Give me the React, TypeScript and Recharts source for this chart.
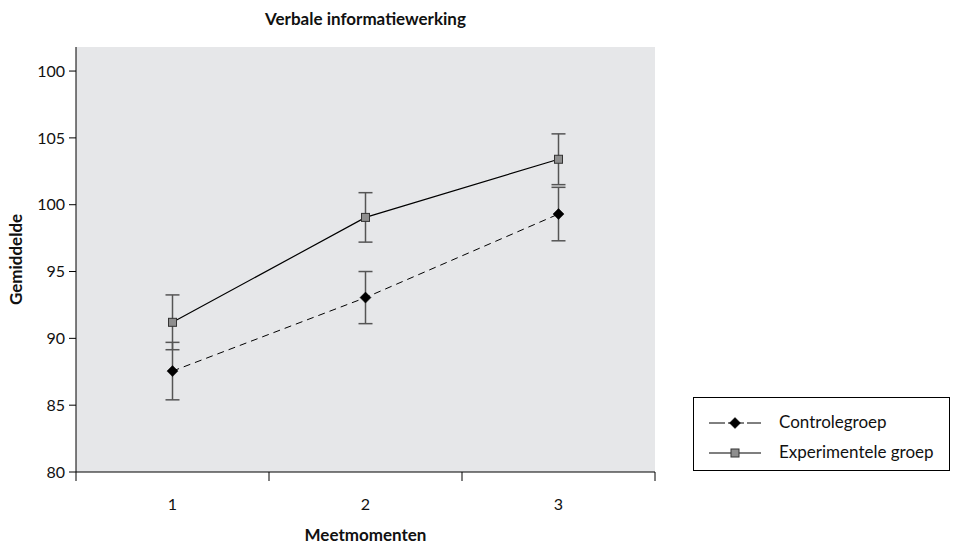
import React from 'react';
import { LineChart, Line, XAxis, YAxis, CartesianGrid, ErrorBar } from 'recharts';

const categories = [1, 2, 3];
const controlValues = [87.55, 93.05, 99.3];
const controlErrors = [2.15, 1.95, 2.0];
const experimentalValues = [91.2, 99.05, 103.4];
const experimentalErrors = [2.05, 1.85, 1.9];
const yTicks = [80, 85, 90, 95, 100, 105, 110];
const yTickLabels = ['80', '85', '90', '95', '100', '105', '100'];
const xBoundaries = [0.5, 1.5, 2.5, 3.5];
const seriesNames = ['Controlegroep', 'Experimentele groep'];

const data = categories.map((c, i) => ({
  x: c,
  ctrl: controlValues[i],
  ctrlErr: controlErrors[i],
  exp: experimentalValues[i],
  expErr: experimentalErrors[i],
}));

const FONT = 'Lato, "Open Sans", sans-serif';

const Diamond = (props: any) => {
  const { cx, cy } = props;
  if (cx == null || cy == null) return null;
  const r = 5.5;
  return <path d={`M${cx},${cy - r}L${cx + r},${cy}L${cx},${cy + r}L${cx - r},${cy}Z`} fill="#000" stroke="#000" strokeWidth={0.5} />;
};

const Square = (props: any) => {
  const { cx, cy } = props;
  if (cx == null || cy == null) return null;
  const s = 8;
  return <rect x={cx - s / 2} y={cy - s / 2} width={s} height={s} fill="#8e8e8e" stroke="#333" strokeWidth={1} />;
};

const XTick = (props: any) => {
  const { x, y, payload } = props;
  const v = payload.value;
  if (Number.isInteger(v)) {
    return (
      <text x={x} y={y + 38} textAnchor="middle" fontFamily={FONT} fontSize={16} fill="#111">
        {v}
      </text>
    );
  }
  return <line x1={x} x2={x} y1={y} y2={y + 9} stroke="#000" strokeWidth={1} />;
};

const LegendBox = () => (
  <div
    style={{
      position: 'absolute',
      left: 693,
      top: 397,
      width: 257,
      height: 74,
      border: '1px solid #000',
      boxSizing: 'border-box',
      background: '#fff',
      fontFamily: FONT,
      fontSize: 17,
      color: '#111',
    }}
  >
    <svg width={80} height={70} style={{ position: 'absolute', left: 0, top: 0 }}>
      <line x1={15} x2={67} y1={25} y2={25} stroke="#000" strokeWidth={1} strokeDasharray="16 3" />
      <Diamond cx={41} cy={25} />
      <line x1={15} x2={67} y1={55} y2={55} stroke="#000" strokeWidth={1.2} />
      <Square cx={41} cy={55} />
    </svg>
    <div style={{ position: 'absolute', left: 85, top: 14, lineHeight: '20px' }}>{seriesNames[0]}</div>
    <div style={{ position: 'absolute', left: 85, top: 44, lineHeight: '20px' }}>{seriesNames[1]}</div>
  </div>
);

export default function App() {
  return (
    <div style={{ position: 'absolute', left: 0, top: 0, width: 953, height: 547, background: '#fff' }}>
      <div
        style={{
          position: 'absolute',
          left: 76,
          width: 579,
          top: 8,
          textAlign: 'center',
          fontFamily: FONT,
          fontWeight: 700,
          fontSize: 17,
          color: '#111',
        }}
      >
        Verbale informatiewerking
      </div>
      <LineChart width={953} height={547} data={data} margin={{ top: 47, right: 298, bottom: 0, left: 0 }}>
        <CartesianGrid fill="#e6e7e9" horizontal={false} vertical={false} />
        <XAxis
          dataKey="x"
          type="number"
          domain={[0.5, 3.5]}
          ticks={[...xBoundaries, ...categories].sort((a, b) => a - b)}
          interval={0}
          tickLine={false}
          tickSize={0}
          tickMargin={0}
          tick={<XTick />}
          axisLine={{ stroke: '#000', strokeWidth: 1 }}
          height={75}
          label={{
            content: (p: any) => {
              const vb = p.viewBox;
              return (
                <text x={vb.x + vb.width / 2} y={vb.y + 69} textAnchor="middle" fontFamily={FONT} fontWeight={700} fontSize={17} fill="#111">
                  Meetmomenten
                </text>
              );
            },
          }}
        />
        <YAxis
          type="number"
          domain={[80, 111.8]}
          ticks={yTicks}
          interval={0}
          allowDataOverflow
          width={76}
          tickSize={7}
          tickLine={{ stroke: '#000' }}
          axisLine={{ stroke: '#000', strokeWidth: 1 }}
          tickFormatter={(v: number) => yTickLabels[yTicks.indexOf(v)]}
          tick={{ fontFamily: FONT, fontSize: 16, fill: '#111' }}
          tickMargin={4}
          label={{
            content: (p: any) => {
              const vb = p.viewBox;
              const cx = 22;
              const cy = vb.y + vb.height / 2;
              return (
                <text x={cx} y={cy} transform={`rotate(-90 ${cx} ${cy})`} textAnchor="middle" fontFamily={FONT} fontWeight={700} fontSize={17} fill="#111">
                  Gemiddelde
                </text>
              );
            },
          }}
        />
        <Line
          name={seriesNames[0]}
          dataKey="ctrl"
          stroke="#000"
          strokeWidth={1}
          strokeDasharray="7 5"
          dot={<Diamond />}
          activeDot={false}
          isAnimationActive={false}
        >
          <ErrorBar dataKey="ctrlErr" width={7} stroke="#555" strokeWidth={1.5} direction="y" />
        </Line>
        <Line
          name={seriesNames[1]}
          dataKey="exp"
          stroke="#000"
          strokeWidth={1.2}
          dot={<Square />}
          activeDot={false}
          isAnimationActive={false}
        >
          <ErrorBar dataKey="expErr" width={7} stroke="#555" strokeWidth={1.5} direction="y" />
        </Line>
      </LineChart>
      <LegendBox />
    </div>
  );
}
